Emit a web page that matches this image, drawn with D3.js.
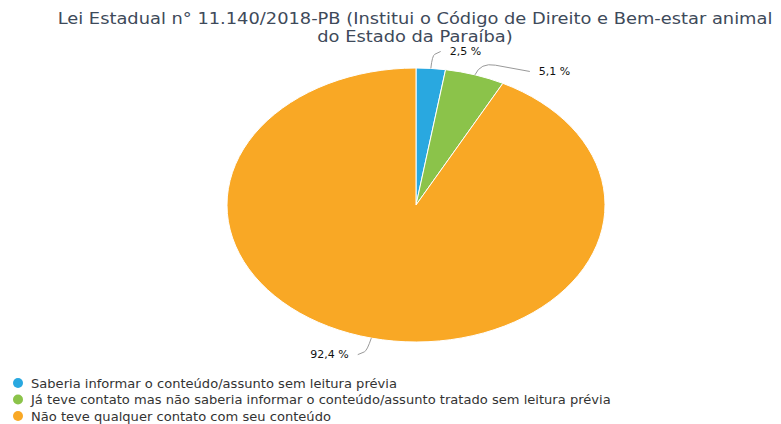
<!DOCTYPE html>
<html><head><meta charset="utf-8">
<script src="https://cdn.jsdelivr.net/npm/d3@7"></script>
<style>body{margin:0;background:#fff}svg{display:block}text{font-family:"DejaVu Sans",sans-serif}</style>
</head><body>
<svg id="c" width="781" height="424"></svg>
<script>
const titleLines = ["Lei Estadual n° 11.140/2018-PB (Institui o Código de Direito e Bem-estar animal", "do Estado da Paraíba)"];
const categories = ["Saberia informar o conteúdo/assunto sem leitura prévia", "Já teve contato mas não saberia informar o conteúdo/assunto tratado sem leitura prévia", "Não teve qualquer contato com seu conteúdo"];
const values = [2.5, 5.1, 92.4];
const labels = ["2,5 %", "5,1 %", "92,4 %"];
const colors = ["#29a8e0", "#8bc34a", "#f9a825"];

const svg = d3.select("#c");
const cx = 416, cy = 205, ry = 137, rx = 189, sx = rx / ry;

svg.append("g").selectAll("text").data(titleLines).join("text")
  .attr("transform", (d, i) => `translate(415,${24 + i * 18}) scale(1.19,1)`)
  .attr("text-anchor", "middle").attr("font-size", 15).attr("fill", "#3e4a5a").text(d => d);

const pie = d3.pie().sort(null).value(d => d)(values);
const arc = d3.arc().innerRadius(0).outerRadius(ry);
const g = svg.append("g").attr("transform", `translate(${cx},${cy}) scale(${sx},1)`);
g.selectAll("path").data(pie).join("path")
  .attr("d", arc).attr("fill", (d, i) => colors[i])
  .attr("stroke", "#fff").attr("stroke-width", 1).attr("vector-effect", "non-scaling-stroke");

// label layout (Highcharts-like): labels on a circle of radius R, pushed apart vertically
const R = ry + 17, minGap = 20;
const items = pie.map((d, i) => {
  const a = (d.startAngle + d.endAngle) / 2;
  return { i, a, s: Math.sin(a), c: Math.cos(a), side: Math.sin(a) >= 0 ? 1 : -1, y: cy - R * Math.cos(a) };
});
[1, -1].forEach(side => {
  const arr = items.filter(o => o.side === side).sort((p, q) => p.y - q.y);
  for (let k = 1; k < arr.length; k++) if (arr[k].y - arr[k - 1].y < minGap) arr[k].y = arr[k - 1].y + minGap;
});
const lg = svg.append("g");
items.forEach(o => {
  const dy = Math.min(Math.abs(o.y - cy), R);
  const xc = cx + o.side * Math.sqrt(R * R - dy * dy) * sx;
  const p0 = [cx + ry * o.s * sx, cy - ry * o.c];
  const p1 = [cx + (ry + 13) * o.s * sx, cy - (ry + 13) * o.c];
  const end = [xc + o.side * 8, o.y];
  const q = [p1[0] + 0.3 * (end[0] - p1[0]), p1[1] + 0.3 * (end[1] - p1[1])];
  lg.append("path")
    .attr("d", `M${p0[0]},${p0[1]} Q${p1[0]},${p1[1]} ${q[0]},${q[1]} L${end[0]},${end[1]}`)
    .attr("fill", "none").attr("stroke", "#999").attr("stroke-width", 1);
  lg.append("text")
    .attr("transform", `translate(${end[0] + o.side * 9},${o.y + 3.5}) scale(1.1,1)`)
    .attr("text-anchor", o.side > 0 ? "start" : "end")
    .attr("font-size", 10).attr("fill", "#111").text(labels[o.i]);
});

const leg = svg.append("g").selectAll("g").data(categories).join("g")
  .attr("transform", (d, i) => `translate(18,${383 + i * 16.5})`);
leg.append("circle").attr("r", 5).attr("fill", (d, i) => colors[i]);
leg.append("text").attr("transform", "translate(13,4.5) scale(1.09,1)")
  .attr("font-size", 12).attr("fill", "#333").text(d => d);
</script>
</body></html>
